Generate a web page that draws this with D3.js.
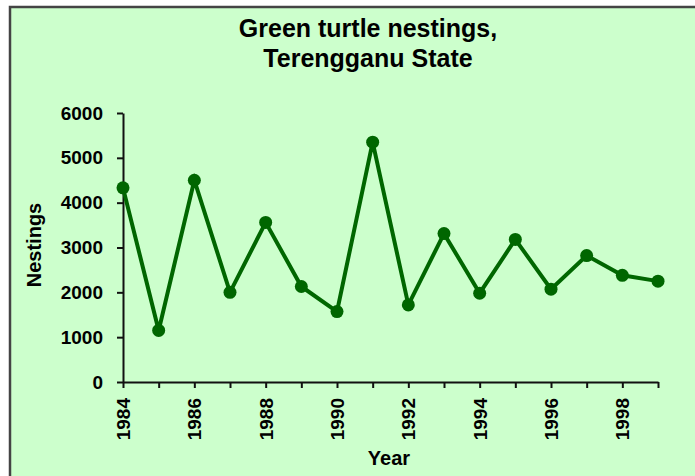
<!DOCTYPE html>
<html>
<head>
<meta charset="utf-8">
<script src="https://cdn.jsdelivr.net/npm/d3@7"></script>
<style>
  html, body { margin: 0; padding: 0; background: #fff; }
  svg text { font-family: "Liberation Sans", Arial, sans-serif; font-weight: bold; fill: #000; }
</style>
</head>
<body>
<div id="chart"></div>
<script>
// Data
const years = [1984, 1985, 1986, 1987, 1988, 1989, 1990, 1991, 1992, 1993, 1994, 1995, 1996, 1997, 1998, 1999];
const nestings = [4330, 1150, 4500, 2000, 3560, 2130, 1570, 5350, 1720, 3310, 1980, 3180, 2070, 2820, 2380, 2250];
const yTicks = [0, 1000, 2000, 3000, 4000, 5000, 6000];
const xLabelYears = [1984, 1986, 1988, 1990, 1992, 1994, 1996, 1998];
const titleLines = ["Green turtle nestings,", "Terengganu State"];

(function () {
    const W = 695, H = 476;
    const lineColor = "#006600";

    const svg = d3.select("#chart")
        .append("svg")
        .attr("width", W)
        .attr("height", H);

    // chart area background + frame
    svg.append("rect")
        .attr("x", 10).attr("y", 7)
        .attr("width", W + 20).attr("height", H + 20)
        .attr("fill", "#ccffcc")
        .attr("stroke", "#444")
        .attr("stroke-width", 2.5);

    const x = d3.scaleLinear().domain([1984, 1999]).range([123, 658]);
    const y = d3.scaleLinear().domain([0, 6000]).range([382, 113]);

    // Title
    svg.selectAll(".title")
        .data(titleLines)
        .enter().append("text")
        .attr("class", "title")
        .attr("x", 368)
        .attr("y", (d, i) => 37 + i * 30)
        .attr("text-anchor", "middle")
        .style("font-size", "25px")
        .text(d => d);

    // Y axis
    const yAxis = svg.append("g")
        .attr("transform", `translate(${x(1984)},0)`)
        .call(d3.axisLeft(y).tickValues(yTicks).tickFormat(d3.format("d")).tickSize(6).tickSizeOuter(0).tickPadding(14));
    yAxis.select(".domain").attr("stroke", "#111").attr("stroke-width", 2);
    yAxis.selectAll(".tick line").attr("stroke", "#111").attr("stroke-width", 2);
    yAxis.selectAll(".tick text")
        .style("font-size", "19px")
        .style("font-family", "'Liberation Sans', Arial, sans-serif")
        .style("font-weight", "bold")
        .attr("fill", "#000");

    // X axis
    const xAxis = svg.append("g")
        .attr("transform", `translate(0,${y(0)})`)
        .call(d3.axisBottom(x)
            .tickValues(years)
            .tickFormat(d => xLabelYears.includes(d) ? String(d) : "")
            .tickSize(6).tickSizeOuter(0));
    xAxis.select(".domain").attr("stroke", "#111").attr("stroke-width", 2);
    xAxis.selectAll(".tick line").attr("stroke", "#111").attr("stroke-width", 2);
    xAxis.selectAll(".tick text")
        .style("font-size", "19px")
        .style("font-family", "'Liberation Sans', Arial, sans-serif")
        .style("font-weight", "bold")
        .attr("fill", "#000")
        .attr("text-anchor", "end")
        .attr("transform", "rotate(-90)")
        .attr("x", -16)
        .attr("y", 0)
        .attr("dy", "0.35em");

    // Axis titles
    svg.append("text")
        .attr("x", 389).attr("y", 465)
        .attr("text-anchor", "middle")
        .style("font-size", "20px")
        .text("Year");

    svg.append("text")
        .attr("transform", "translate(41,245) rotate(-90)")
        .attr("text-anchor", "middle")
        .style("font-size", "20px")
        .text("Nestings");

    // Line
    const pts = years.map((yr, i) => ({ year: yr, value: nestings[i] }));
    const line = d3.line().x(d => x(d.year)).y(d => y(d.value));

    svg.append("path")
        .datum(pts)
        .attr("fill", "none")
        .attr("stroke", lineColor)
        .attr("stroke-width", 4)
        .attr("stroke-linejoin", "miter")
        .attr("d", line);

    svg.selectAll(".dot")
        .data(pts)
        .enter().append("circle")
        .attr("class", "dot")
        .attr("cx", d => x(d.year))
        .attr("cy", d => y(d.value))
        .attr("r", 6.5)
        .attr("fill", lineColor);
})();
</script>
</body>
</html>
